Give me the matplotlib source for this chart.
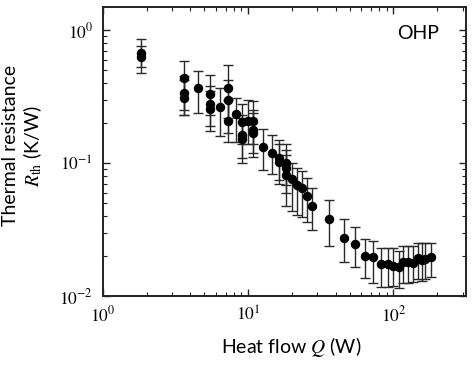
import numpy as np
import matplotlib
matplotlib.use("Agg")
import matplotlib.pyplot as plt

# heat flow Q (W), thermal resistance R_th (K/W), error bar ends
q = [1.83, 1.83,
     3.62, 3.62, 3.62,
     4.52,
     5.47, 5.47, 5.47,
     6.41,
     7.28, 7.28, 7.28,
     8.26,
     9.1, 9.1, 9.1,
     10.0,
     10.8, 10.8, 10.8,
     12.7, 14.6, 16.4, 16.4,
     18.3, 18.3, 18.3,
     20.1, 21.8, 23.6, 25.5, 27.6,
     36.2, 45.9, 54.7, 64.1, 72.8,
     82.6, 92.5, 100, 110, 117, 127, 137, 147, 158, 166, 183]
r = [0.68, 0.63,
     0.44, 0.336, 0.31,
     0.367,
     0.33, 0.28, 0.255,
     0.264,
     0.37, 0.30, 0.207,
     0.234,
     0.204, 0.163, 0.152,
     0.207,
     0.207, 0.177, 0.168,
     0.132, 0.119, 0.109, 0.102,
     0.100, 0.092, 0.081,
     0.076, 0.068, 0.065, 0.0565, 0.0476,
     0.038, 0.0274, 0.0247, 0.0201, 0.0197,
     0.0174, 0.0174, 0.0168, 0.0165, 0.018, 0.018, 0.0177, 0.0193, 0.0187, 0.019, 0.0197]
r_hi = [0.855, 0.76,
        0.585, 0.45, 0.42,
        0.49,
        0.46, 0.38, 0.35,
        0.367,
        0.545, 0.42, 0.30,
        0.31,
        0.28, 0.23, 0.22,
        0.30,
        0.293, 0.25, 0.24,
        0.18, 0.163, 0.15, 0.14,
        0.14, 0.125, 0.115,
        0.10, 0.092, 0.088, 0.077, 0.065,
        0.053, 0.038, 0.033, 0.027, 0.026,
        0.023, 0.023, 0.023, 0.022, 0.024, 0.024, 0.024, 0.025, 0.025, 0.025, 0.025]
r_lo = [0.53, 0.48,
        0.25, 0.23, 0.23,
        0.238,
        0.23, 0.19, 0.175,
        0.16,
        0.22, 0.17, 0.144,
        0.144,
        0.14, 0.11, 0.10,
        0.14,
        0.14, 0.12, 0.111,
        0.089, 0.083, 0.075, 0.07,
        0.068, 0.06, 0.048,
        0.044, 0.041, 0.039, 0.036, 0.0314,
        0.024, 0.018, 0.0165, 0.0137, 0.0125,
        0.0116, 0.0116, 0.0118, 0.0114, 0.0125, 0.0125, 0.0128, 0.0135, 0.013, 0.0135, 0.014]

q = np.array(q)
r = np.array(r)
yerr = [r - np.array(r_lo), np.array(r_hi) - r]

plt.rcParams['mathtext.fontset'] = 'stix'

fig = plt.figure(figsize=(4.74, 3.65), dpi=100)
ax = fig.add_axes([0.217, 0.189, 0.766, 0.792])

ax.errorbar(q, r, yerr=yerr, fmt='o', color='black', ms=5.8,
            ecolor='#2a2a2a', elinewidth=1.0, capsize=3.8, capthick=1.0)

ax.set_xscale('log')
ax.set_yscale('log')
ax.set_xlim(1, 316)
ax.set_ylim(0.01, 1.5)

ax.tick_params(which='both', direction='in', top=True, right=True,
               color='#222222')
ax.tick_params(which='major', length=5, width=1.0, pad=7)
ax.tick_params(which='minor', length=3, width=0.8)
for lab in ax.get_xticklabels() + ax.get_yticklabels():
    lab.set_fontfamily('STIXGeneral')
    lab.set_fontsize(12.5)
for s in ax.spines.values():
    s.set_linewidth(1.4)
    s.set_color('#222222')

ax.text(0.868, 0.907, 'OHP', transform=ax.transAxes, ha='center', va='center',
        fontsize=14, family='Lato')

ax.set_xlabel('Heat flow $Q$ (W)', fontsize=14, family='Lato', va='center')
ax.xaxis.set_label_coords(0.518, -0.176)
ax.set_ylabel('Thermal resistance\n$R_{\\rm th}$ (K/W)', fontsize=14,
              family='Lato', linespacing=1.1, va='center')
ax.yaxis.set_label_coords(-0.22, 0.52)

fig.savefig('out.png', dpi=100)
